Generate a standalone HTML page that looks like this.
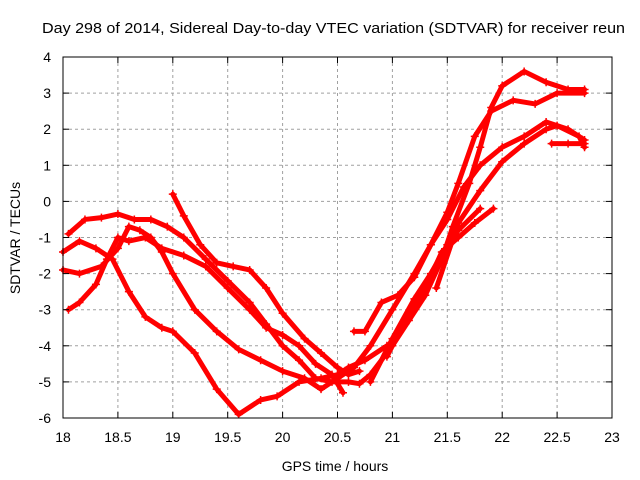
<!DOCTYPE html>
<html><head><meta charset="utf-8"><style>
body{margin:0;background:#fff}
svg{display:block;font-family:"Liberation Sans",sans-serif}
</style></head><body>
<svg id="chart" width="640" height="480" viewBox="0 0 640 480">
<rect width="640" height="480" fill="#fff"/>
<text x="42" y="33" font-size="15" textLength="583" lengthAdjust="spacingAndGlyphs">Day 298 of 2014, Sidereal Day-to-day VTEC variation (SDTVAR) for receiver reun</text>
<text x="335" y="471" font-size="14" text-anchor="middle">GPS time / hours</text>
<text transform="translate(20,238) rotate(-90)" font-size="14" text-anchor="middle">SDTVAR / TECUs</text>
<g id="grid"></g><g id="series"></g><g id="axes"></g>
</svg>
<script>
const xTicks=[18,18.5,19,19.5,20,20.5,21,21.5,22,22.5,23];
const yTicks=[4,3,2,1,0,-1,-2,-3,-4,-5,-6];
const t1x=[18.05,18.2,18.35,18.5,18.65,18.8,18.95,19.1,19.3,19.5,19.7,19.85,20.0,20.15,20.3,20.45,20.6,20.7,20.8,21.0,21.15,21.3,21.45,21.55,21.7,21.8,21.9,22.0,22.2,22.4,22.6,22.75];
const t1y=[-0.9,-0.5,-0.45,-0.35,-0.5,-0.5,-0.7,-1.0,-1.6,-2.2,-2.8,-3.4,-4.0,-4.4,-4.9,-5.0,-5.0,-5.05,-4.8,-4.0,-3.3,-2.6,-1.6,-0.7,0.5,1.5,2.6,3.2,3.6,3.3,3.1,3.1];
const t2x=[18.0,18.15,18.35,18.5,18.6,18.7,18.8,18.9,19.0,19.2,19.4,19.6,19.8,20.0,20.2,20.35,20.5,20.65,20.8,21.0,21.2,21.35,21.5,21.6,21.75,21.9,22.1,22.3,22.5,22.75];
const t2y=[-1.9,-2.0,-1.8,-1.3,-0.7,-0.8,-1.0,-1.4,-2.0,-3.0,-3.6,-4.1,-4.4,-4.7,-4.9,-5.2,-4.9,-4.6,-4.0,-3.0,-2.0,-1.2,-0.3,0.5,1.8,2.5,2.8,2.7,3.0,3.0];
const t3x=[18.05,18.15,18.3,18.4,18.5,18.6,18.75,18.9,19.1,19.3,19.5,19.7,19.85,20.0,20.15,20.3,20.45,20.55];
const t3y=[-3.0,-2.8,-2.3,-1.6,-1.0,-1.1,-1.0,-1.3,-1.5,-1.8,-2.4,-3.0,-3.5,-3.7,-4.0,-4.5,-4.8,-5.3];
const t4x=[18.0,18.15,18.3,18.45,18.6,18.75,18.9,19.0,19.2,19.4,19.6,19.8,19.95,20.15,20.35,20.5,20.6,20.75,20.95];
const t4y=[-1.4,-1.1,-1.3,-1.6,-2.5,-3.2,-3.5,-3.6,-4.2,-5.2,-5.9,-5.5,-5.4,-5.0,-4.9,-4.8,-4.6,-4.4,-4.0];
const t5x=[19.0,19.1,19.25,19.4,19.55,19.7,19.85,20.0,20.2,20.35,20.5,20.6,20.7];
const t5y=[0.2,-0.4,-1.2,-1.7,-1.8,-1.9,-2.4,-3.1,-3.8,-4.2,-4.6,-4.8,-4.7];
const t6x=[20.65,20.75,20.9,21.05,21.2,21.35,21.5,21.65,21.8,22.0,22.2,22.4,22.6,22.75];
const t6y=[-3.6,-3.6,-2.8,-2.6,-2.1,-1.2,-0.5,0.4,1.0,1.5,1.8,2.2,2.0,1.7];
const t7x=[20.8,21.0,21.2,21.35,21.5,21.6,21.8];
const t7y=[-5.0,-3.8,-2.7,-2.0,-1.2,-0.8,-0.2];
const t8x=[20.95,21.1,21.3,21.45,21.6,21.75,21.92];
const t8y=[-4.3,-3.4,-2.4,-1.4,-1.0,-0.6,-0.2];
const t9x=[21.4,21.6,21.8,22.0,22.2,22.4,22.5,22.7,22.75];
const t9y=[-2.4,-0.6,0.3,1.1,1.6,2.0,2.1,1.8,1.5];
const t10x=[22.45,22.6,22.75];
const t10y=[1.6,1.6,1.6];
const seriesX=[t1x,t2x,t3x,t4x,t5x,t6x,t7x,t8x,t9x,t10x];
const seriesY=[t1y,t2y,t3y,t4y,t5y,t6y,t7y,t8y,t9y,t10y];

const X0=63,X1=612,Y0=57,Y1=418;
const sx=h=>X0+(h-18)/5*(X1-X0);
const sy=v=>Y0+(4-v)/10*(Y1-Y0);
const NS="http://www.w3.org/2000/svg";
function mk(tag,attrs,parent){const e=document.createElementNS(NS,tag);for(const k in attrs)e.setAttribute(k,attrs[k]);parent.appendChild(e);return e;}
const grid=document.getElementById('grid'),axes=document.getElementById('axes'),ser=document.getElementById('series');
xTicks.forEach(t=>{const x=sx(t);
 if(t>18&&t<23){const l=mk('line',{x1:x,x2:x,y1:Y0,y2:Y1,stroke:'#a0a0a0','stroke-dasharray':'3,3'},grid);
 
 }
 mk('line',{x1:x,x2:x,y1:Y1,y2:Y1-6,stroke:'#000'},axes);
 mk('line',{x1:x,x2:x,y1:Y0,y2:Y0+6,stroke:'#000'},axes);
 const tx=mk('text',{x:x,y:Y1+24,'font-size':14,'text-anchor':'middle'},axes);tx.textContent=t;
 
 
});
yTicks.forEach(t=>{const y=sy(t);
 if(t<4&&t>-6){const l=mk('line',{x1:X0,x2:X1,y1:y,y2:y,stroke:'#a0a0a0','stroke-dasharray':'3,3'},grid);
 
 }
 mk('line',{x1:X0,x2:X0+6,y1:y,y2:y,stroke:'#000'},axes);
 mk('line',{x1:X1,x2:X1-6,y1:y,y2:y,stroke:'#000'},axes);
 const tx=mk('text',{x:X0-12,y:y+5,'font-size':14,'text-anchor':'end'},axes);tx.textContent=t;
 
 
});
const fr=mk('rect',{x:X0,y:Y0,width:X1-X0,height:Y1-Y0,fill:'none',stroke:'#000'},axes);


seriesX.forEach((xs,i)=>{const ys=seriesY[i];
 const g=mk('g',{},ser);
 
 
 const pts=xs.map((x,j)=>sx(x)+','+sy(ys[j])).join(' ');
 mk('polyline',{points:pts,fill:'none',stroke:'#ff0000','stroke-width':5,'stroke-linejoin':'round','stroke-linecap':'round'},g);
 xs.forEach((x,j)=>{const px=sx(x),py=sy(ys[j]);
  const m=mk('path',{d:`M${px-4},${py}h8M${px},${py-4}v8`,stroke:'#ff0000','stroke-width':1.5},g);
  
  
 });
});
</script>
</body></html>
